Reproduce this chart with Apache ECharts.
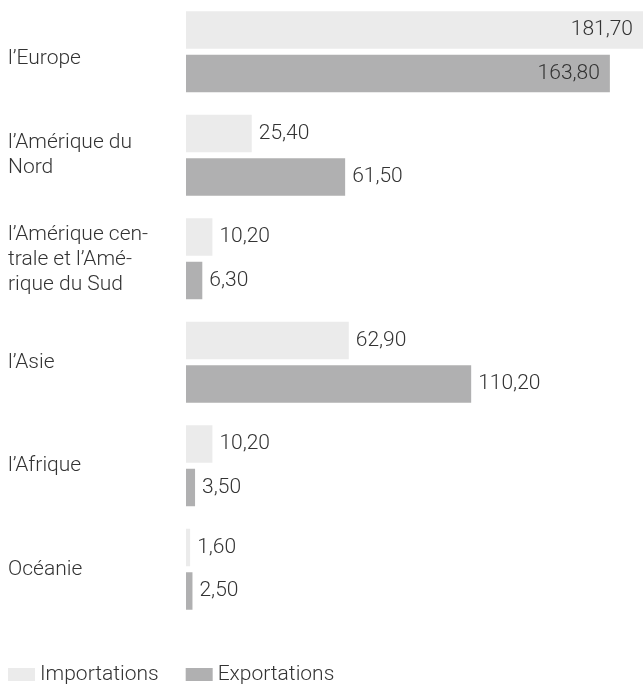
<!DOCTYPE html>
<html><head><meta charset="utf-8">
<script src="https://cdn.jsdelivr.net/npm/echarts@6/dist/echarts.min.js"></script>
<style>html,body{margin:0;padding:0;background:#fff}#c{width:643px;height:684px}</style>
</head><body><div id="c"></div>
<script>
const categories = ["l\u2019Europe", "l\u2019Am\u00e9rique du\nNord", "l\u2019Am\u00e9rique cen-\ntrale et l\u2019Am\u00e9-\nrique du Sud", "l\u2019Asie", "l\u2019Afrique", "Oc\u00e9anie"];
const importations = [181.7, 25.4, 10.2, 62.9, 10.2, 1.6];
const exportations = [163.8, 61.5, 6.3, 110.2, 3.5, 2.5];
const seriesNames = ["Importations", "Exportations"];

const FONT = "Roboto";
const FS = 21;
const FW = 300;
const TXT = "#333333";
const fmt = v => v.toFixed(2).replace('.', ',');
function mk(arr) {
  return arr.map(v => v > 150
    ? { value: v, label: { position: 'insideRight', distance: 10 } }
    : { value: v });
}
const base = { fontFamily: FONT, fontSize: FS, fontWeight: FW, color: TXT, lineHeight: 25 };
const chart = echarts.init(document.getElementById('c'), null, { renderer: 'canvas' });
chart.setOption({
  animation: false,
  textStyle: { fontFamily: FONT },
  grid: { left: 186, right: 0, top: 0, height: 621, containLabel: false, outerBoundsMode: 'none' },
  legend: {
    left: 3, top: 659, itemWidth: 27, itemHeight: 13, itemGap: 27,
    icon: 'rect',
    textStyle: { fontFamily: FONT, fontSize: FS, fontWeight: FW, color: TXT },
    data: seriesNames
  },
  xAxis: { type: 'value', min: 0, max: 176.6, show: false },
  yAxis: {
    type: 'category', inverse: true, data: categories,
    axisLine: { show: false }, axisTick: { show: false },
    axisLabel: Object.assign({
      margin: 178, align: 'left',
      formatter: (v, i) => i === 0 ? '{e|' + v + '}' : (i === 2 ? '{c|' + v + '}' : v),
      rich: {
        e: Object.assign({ padding: [13, 0, 0, 0] }, base),
        c: Object.assign({ padding: [2, 0, 0, 0] }, base)
      }
    }, base)
  },
  series: [
    { name: seriesNames[0], type: 'bar', data: mk(importations), barWidth: 37.5, barGap: '16%',
      itemStyle: { color: '#ebebeb' },
      label: { show: true, position: 'right', distance: 7, formatter: p => fmt(p.value), fontFamily: FONT, fontSize: FS, fontWeight: FW, color: TXT } },
    { name: seriesNames[1], type: 'bar', data: mk(exportations), barWidth: 37.5,
      itemStyle: { color: '#b0b0b1' },
      label: { show: true, position: 'right', distance: 7, formatter: p => fmt(p.value), fontFamily: FONT, fontSize: FS, fontWeight: FW, color: TXT } }
  ]
});
</script></body></html>
